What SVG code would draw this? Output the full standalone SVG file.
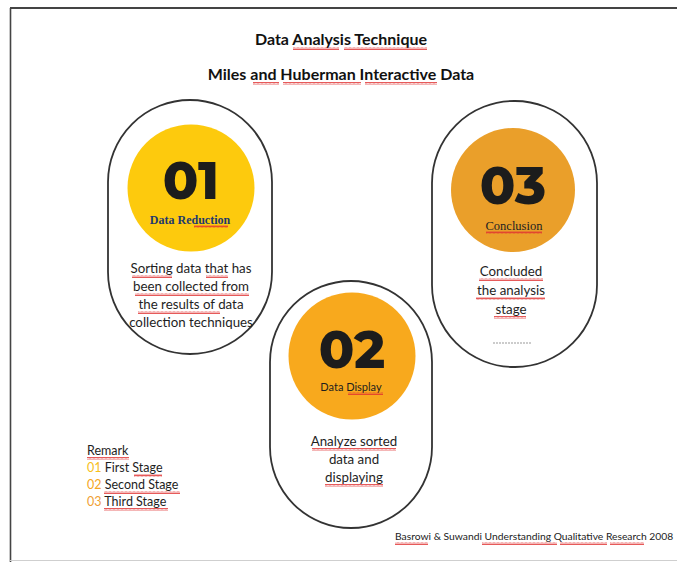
<svg xmlns="http://www.w3.org/2000/svg" width="677" height="562" viewBox="0 0 677 562">
  <defs>
    <!-- spell-check style wavy underline -->
    <pattern id="wave" width="4" height="3" patternUnits="userSpaceOnUse">
      <path d="M0 2.5 L1 0.5 L2 2.5 L3 0.5 L4 2.5" fill="none" stroke="#e03030" stroke-width="0.8"/>
    </pattern>
  </defs>
  <style>
    .pill { fill: none; stroke: #333; stroke-width: 1.8; }
    .num { font-family: "Montserrat", "Inter", "Liberation Sans", sans-serif; font-weight: 800; font-size: 52px; fill: #1c1c1c; text-anchor: middle; }
    .body { font-family: "Lato", "Open Sans", "Liberation Sans", sans-serif; font-size: 13.3px; fill: #1e1e1e; text-anchor: middle; }
    .title { font-family: "Lato", "Open Sans", "Liberation Sans", sans-serif; font-weight: bold; font-size: 16px; fill: #111; text-anchor: middle; }
    .remark { font-family: "Lato", "Open Sans", "Liberation Sans", sans-serif; font-size: 12.5px; fill: #1e1e1e; }
    .sq { fill: url(#wave); }
  </style>

  <rect width="677" height="562" fill="#ffffff"/>

  <!-- page frame -->
  <line x1="10" y1="8" x2="677" y2="8" stroke="#444" stroke-width="2"/>
  <line x1="10.5" y1="8" x2="10.5" y2="562" stroke="#444" stroke-width="1.6"/>
  <line x1="10" y1="560.5" x2="677" y2="560.5" stroke="#cfcfcf" stroke-width="1"/>

  <!-- headings -->
  <g id="heading">
    <text class="title" x="341" y="45">Data Analysis Technique</text>
    <text class="title" x="341" y="80">Miles and Huberman Interactive Data</text>
    <rect class="sq" x="293" y="47" width="46" height="3"/>
    <rect class="sq" x="344" y="47" width="83" height="3"/>
    <rect class="sq" x="253" y="82" width="26" height="3"/>
    <rect class="sq" x="283" y="82" width="78" height="3"/>
    <rect class="sq" x="365" y="82" width="72" height="3"/>
  </g>

  <!-- stage 01 -->
  <g id="stage-01">
    <rect class="pill" x="108" y="100" width="164" height="254" rx="82" ry="82"/>
    <circle cx="191" cy="188" r="63.5" fill="#fdca0d"/>
    <text class="num" x="191" y="199">01</text>
    <text x="190" y="224" text-anchor="middle" font-family="Liberation Serif, serif" font-weight="bold" font-size="12px" fill="#1f3a6e">Data Reduction</text>
    <rect class="sq" x="194" y="225" width="34" height="3"/>
    <text class="body" x="191" y="273">Sorting data that has</text>
    <text class="body" x="191" y="291">been collected from</text>
    <text class="body" x="191" y="309">the results of data</text>
    <text class="body" x="191" y="327">collection techniques</text>
    <rect class="sq" x="132" y="275" width="40" height="3"/>
    <rect class="sq" x="206" y="275" width="22" height="3"/>
    <rect class="sq" x="135" y="293" width="114" height="3"/>
    <rect class="sq" x="138" y="311" width="82" height="3"/>
  </g>

  <!-- stage 02 -->
  <g id="stage-02">
    <rect class="pill" x="270" y="281" width="162" height="247" rx="81" ry="81"/>
    <circle cx="352" cy="356" r="63.5" fill="#f8a91d"/>
    <text class="num" x="352" y="368">02</text>
    <text x="351" y="391" text-anchor="middle" font-family="Lato, Open Sans, sans-serif" font-size="11px" fill="#1e1e1e">Data Display</text>
    <rect class="sq" x="348" y="392" width="35" height="3"/>
    <text class="body" x="354" y="446">Analyze sorted</text>
    <text class="body" x="354" y="464">data and</text>
    <text class="body" x="354" y="482">displaying</text>
    <rect class="sq" x="312" y="448" width="84" height="3"/>
    <rect class="sq" x="325" y="484" width="58" height="3"/>
  </g>

  <!-- stage 03 -->
  <g id="stage-03">
    <rect class="pill" x="432" y="101" width="165" height="266" rx="82" ry="82"/>
    <circle cx="513" cy="190" r="62" fill="#ea9f2a"/>
    <text class="num" x="513" y="204">03</text>
    <text x="514" y="230" text-anchor="middle" font-family="Liberation Serif, serif" font-size="12.5px" fill="#222">Conclusion</text>
    <rect class="sq" x="486" y="231" width="56" height="3"/>
    <text class="body" x="511" y="276">Concluded</text>
    <text class="body" x="511" y="295">the analysis</text>
    <text class="body" x="511" y="314">stage</text>
    <rect class="sq" x="479" y="278" width="64" height="3"/>
    <rect class="sq" x="476" y="297" width="69" height="3"/>
    <rect class="sq" x="494" y="316" width="32" height="3"/>
    <line x1="493" y1="343" x2="532" y2="343" stroke="#9a9a9a" stroke-width="1.2" stroke-dasharray="2 1"/>
  </g>

  <!-- legend -->
  <g id="legend">
    <text class="remark" x="87" y="455">Remark</text>
    <rect class="sq" x="87" y="457" width="42" height="3"/>
    <text class="remark" x="87" y="472"><tspan fill="#f7c01c">01</tspan> First Stage</text>
    <rect class="sq" x="134" y="474" width="28" height="3"/>
    <text class="remark" x="87" y="489"><tspan fill="#f5a623">02</tspan> Second Stage</text>
    <rect class="sq" x="104" y="491" width="76" height="3"/>
    <text class="remark" x="87" y="506"><tspan fill="#f0a035">03</tspan> Third Stage</text>
    <rect class="sq" x="104" y="508" width="64" height="3"/>
  </g>

  <!-- source -->
  <g id="source">
    <text x="395" y="540" font-family="Lato, Open Sans, sans-serif" font-size="10.3px" fill="#222">Basrowi &amp; Suwandi Understanding Qualitative Research 2008</text>
    <rect class="sq" x="395" y="542" width="33" height="3"/>
    <rect class="sq" x="482" y="542" width="75" height="3"/>
    <rect class="sq" x="560" y="542" width="47" height="3"/>
    <rect class="sq" x="610" y="542" width="34" height="3"/>
  </g>
</svg>
